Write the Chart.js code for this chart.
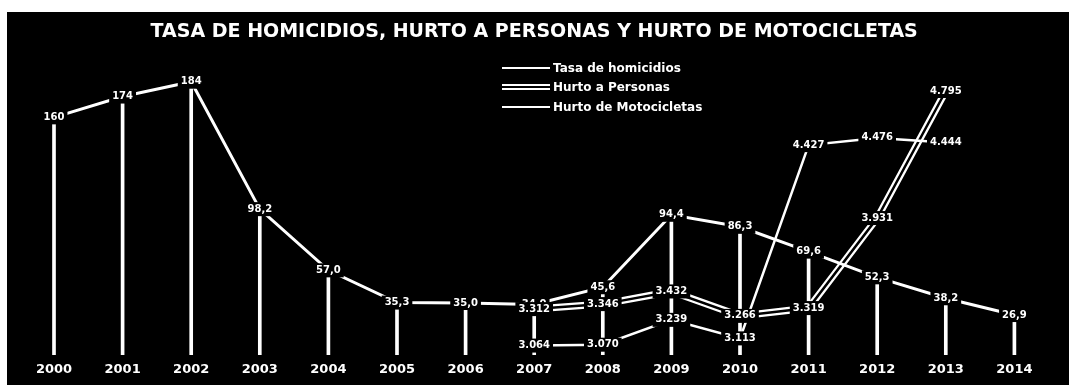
<!DOCTYPE html>
<html>
<head>
<meta charset="utf-8">
<script src="https://cdn.jsdelivr.net/npm/chart.js@4.4.1/dist/chart.umd.min.js"></script>
<style>
  html, body { margin: 0; padding: 0; background: #fff; }
  #panel { position: absolute; left: 7px; top: 12px; width: 1062px; height: 373px; background: #000; overflow: hidden; }
  #chart { position: absolute; left: 0; top: 0; }
  .legend { position: absolute; left: 495px; top: 46px; font: bold 12px "DejaVu Sans", sans-serif; color: #fff; }
  .legend .row { height: 19.5px; display: flex; align-items: center; }
  .legend .sw { width: 48px; height: 2px; background: #fff; margin-right: 3px; }
  .legend .sw.double { height: 2px; background: transparent; border-top: 2px solid #fff; border-bottom: 2px solid #fff; }
</style>
</head>
<body>
<div id="panel">
  <canvas id="chart" width="1062" height="373"></canvas>
  <div class="legend" id="legend"></div>
</div>
<script>
(function () {
  'use strict';

  // Values.
  var years = ['2000', '2001', '2002', '2003', '2004', '2005', '2006', '2007',
               '2008', '2009', '2010', '2011', '2012', '2013', '2014'];
  var homicidios = [160, 174, 184, 98.2, 57.0, 35.3, 35.0, 34.0, 45.6, 94.4, 86.3, 69.6, 52.3, 38.2, 26.9];
  var hurtoPersonas = [null, null, null, null, null, null, null, 3312, 3346, 3432, 3266, 3319, 3931, 4795, null];
  var hurtoMotos = [null, null, null, null, null, null, null, 3064, 3070, 3239, 3113, 4427, 4476, 4444, null];

  var FONT = '"DejaVu Sans", sans-serif';

  function fmtRate(v) {
    return v >= 100 ? String(Math.round(v)) : v.toFixed(1).replace('.', ',');
  }
  function fmtCount(v) {
    return String(v).replace(/\B(?=(\d{3})+(?!\d))/g, '.');
  }

  // Which datasets carry a value label, and how to write it.
  var LABELS = {
    'Tasa de homicidios': fmtRate,
    'Hurto a Personas': fmtCount,
    'Hurto de Motocicletas': fmtCount
  };

  // Data labels on a black box, centred on each point (like the original).
  var valueLabels = {
    id: 'valueLabels',
    afterDatasetsDraw: function (chart) {
      var ctx = chart.ctx;
      ctx.save();
      ctx.font = 'bold 10px ' + FONT;
      ctx.textAlign = 'center';
      ctx.textBaseline = 'middle';
      chart.data.datasets.forEach(function (ds, i) {
        var fmt = LABELS[ds.label];
        if (!fmt || ds.type === 'bar') return;
        var meta = chart.getDatasetMeta(i);
        meta.data.forEach(function (pt, j) {
          var v = ds.data[j];
          if (v === null || v === undefined) return;
          var txt = fmt(v);
          var w = ctx.measureText(txt).width;
          ctx.fillStyle = '#000';
          ctx.fillRect(pt.x - w / 2 - 3, pt.y - 7, w + 6, 14);
          ctx.fillStyle = '#fff';
          ctx.fillText(txt, pt.x, pt.y);
        });
      });
      ctx.restore();
    }
  };

  // Legend drawn over the plot, as in the source image.
  var legendEl = document.getElementById('legend');
  [['Tasa de homicidios', ''], ['Hurto a Personas', 'double'], ['Hurto de Motocicletas', '']].forEach(function (item) {
    var row = document.createElement('div');
    row.className = 'row';
    row.innerHTML = '<span class="sw ' + item[1] + '"></span><span>' + item[0] + '</span>';
    legendEl.appendChild(row);
  });

  new Chart(document.getElementById('chart'), {
    type: 'line',
    data: {
      labels: years,
      datasets: [
        {
          label: 'Tasa de homicidios',
          data: homicidios,
          yAxisID: 'y',
          borderColor: '#fff',
          borderWidth: 3,
          pointRadius: 0,
          order: 0
        },
        {
          label: 'Hurto de Motocicletas',
          data: hurtoMotos,
          yAxisID: 'y2',
          borderColor: '#fff',
          borderWidth: 2.5,
          pointRadius: 0,
          order: 1
        },
        {
          // inner black stroke makes the personas line look doubled
          label: 'Hurto a Personas (interior)',
          data: hurtoPersonas,
          yAxisID: 'y2',
          borderColor: '#000',
          borderWidth: 2.5,
          pointRadius: 0,
          order: 2
        },
        {
          label: 'Hurto a Personas',
          data: hurtoPersonas,
          yAxisID: 'y2',
          borderColor: '#fff',
          borderWidth: 7,
          pointRadius: 0,
          order: 3
        },
        {
          // drop lines under the homicide rate
          type: 'bar',
          label: 'caida',
          data: homicidios,
          yAxisID: 'y',
          backgroundColor: '#fff',
          barThickness: 3,
          order: 4
        }
      ]
    },
    options: {
      responsive: false,
      animation: false,
      layout: { padding: { top: 0, left: 12.7, right: 20.3, bottom: 0.4 } },
      plugins: {
        legend: { display: false },
        tooltip: { enabled: false },
        title: {
          display: true,
          text: 'TASA DE HOMICIDIOS, HURTO A PERSONAS Y HURTO DE MOTOCICLETAS',
          color: '#fff',
          font: { family: FONT, size: 19, weight: 'bold' },
          padding: { top: 9, bottom: 8.2 }
        }
      },
      scales: {
        x: {
          offset: true,
          grid: { display: false, drawTicks: false },
          border: { display: false },
          ticks: {
            color: '#fff',
            padding: 7,
            maxRotation: 0,
            autoSkip: false,
            font: { family: FONT, size: 13, weight: 'bold' }
          }
        },
        y: { display: false, min: 0, max: 204 },
        y2: { display: false, position: 'right', min: 3000, max: 5060 }
      }
    },
    plugins: [valueLabels]
  });
}());
</script>
</body>
</html>
